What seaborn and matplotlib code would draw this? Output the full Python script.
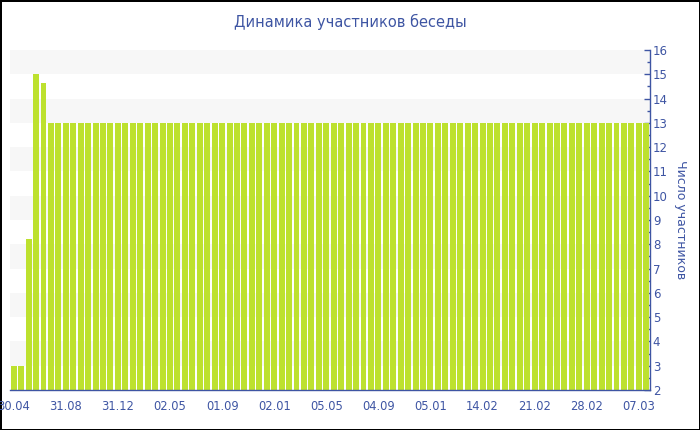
import matplotlib
matplotlib.use("Agg")
import matplotlib.pyplot as plt
from matplotlib.ticker import MultipleLocator
import seaborn as sns
import pandas as pd

# participants per period (one bar each)
members = [
    3, 3, 8.2, 15, 14.65, 13, 13, 13, 13, 13,
    13, 13, 13, 13, 13, 13, 13, 13, 13, 13,
    13, 13, 13, 13, 13, 13, 13, 13, 13, 13,
    13, 13, 13, 13, 13, 13, 13, 13, 13, 13,
    13, 13, 13, 13, 13, 13, 13, 13, 13, 13,
    13, 13, 13, 13, 13, 13, 13, 13, 13, 13,
    13, 13, 13, 13, 13, 13, 13, 13, 13, 13,
    13, 13, 13, 13, 13, 13, 13, 13, 13, 13,
    13, 13, 13, 13, 13, 13,
]
# labels shown under every 7th bar
tick_labels = ["30.04", "31.08", "31.12", "02.05", "01.09", "02.01", "05.05",
               "04.09", "05.01", "14.02", "21.02", "28.02", "07.03"]
label_step = 7

title = "Динамика участников беседы"
y_title = "Число участников"

BLUE = "#3e55a3"
BAR = "#bde12e"
BAND = "#f7f7f7"

df = pd.DataFrame({"period": range(len(members)), "members": members})

sns.set_style("white")
plt.rcParams["font.family"] = ["DejaVu Sans"]

fig = plt.figure(figsize=(7, 4.3), dpi=100)
fig.patch.set_edgecolor("black")
fig.patch.set_linewidth(2)
ax = fig.add_axes([10 / 700, 40 / 430, 640 / 700, 340 / 430])

# alternating grey bands
for lo in range(3, 16, 2):
    ax.axhspan(lo, lo + 1, color=BAND, zorder=0, lw=0)

sns.barplot(df, x="period", y="members", color=BAR, width=0.8,
            saturation=1, ax=ax, zorder=2)
for p in ax.patches:
    p.set_edgecolor("none")

ax.set_xlim(-0.5, len(members) - 0.5)
ax.set_ylim(2, 16)

ax.set_xticks(range(0, len(members), label_step))
ax.set_xticklabels(tick_labels)
ax.set_xlabel("")

ax.yaxis.tick_right()
ax.yaxis.set_label_position("right")
ax.yaxis.set_major_locator(MultipleLocator(1))
ax.yaxis.set_minor_locator(MultipleLocator(0.5))
ax.set_ylabel(y_title, rotation=270, color=BLUE, fontsize=9, labelpad=14)

ax.tick_params(axis="y", which="major", direction="in", length=4, width=1,
               colors=BLUE, labelsize=8.5, pad=2, right=True, left=False)
ax.tick_params(axis="y", which="minor", direction="in", length=2, width=1,
               colors=BLUE, right=True, left=False)
ax.tick_params(axis="x", direction="out", length=4, width=1, colors=BLUE,
               labelsize=8.3, pad=3)

for side in ["top", "left"]:
    ax.spines[side].set_visible(False)
for side in ["bottom", "right"]:
    ax.spines[side].set_color(BLUE)
    ax.spines[side].set_linewidth(1)

fig.text(0.5, 1 - 22 / 430, title, ha="center", va="center",
         color=BLUE, fontsize=10.5)

fig.savefig("out.png", dpi=100, edgecolor=fig.get_edgecolor())
